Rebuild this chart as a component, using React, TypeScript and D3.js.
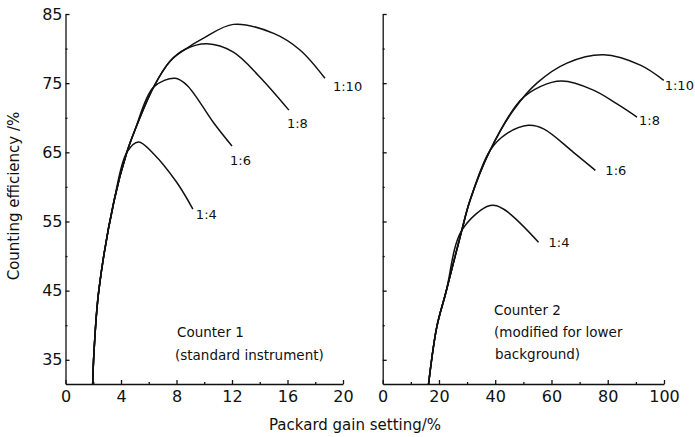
import { useEffect, useRef } from 'react'
import * as d3 from 'd3'

// counter 1 (gain 0-20 %), shared rising part then one branch per ratio
const rise1: [number, number][] = [[1.96, 31.5], [2.05, 36], [2.4, 45], [3.5, 58], [4.42, 65]]
const c1Ratio4: [number, number][] = [[5.26, 66.5], [6.34, 64.8], [8.0, 60.7], [9.18, 56.8]]
const c1Ratio6: [number, number][] = [[5.0, 68.2], [6.34, 74.4], [7.9, 75.7], [8.75, 74.7], [10.7, 69.2], [12.0, 65.9]]
const c1Ratio8: [number, number][] = [[5.0, 68.2], [6.34, 74.4], [7.55, 78.2], [8.63, 79.9], [10.2, 80.7], [12.1, 79.5], [14.0, 75.9], [16.1, 71.1]]
const c1Ratio10: [number, number][] = [[5.0, 68.2], [6.34, 74.4], [7.55, 78.2], [8.63, 79.9], [9.95, 81.5], [12.1, 83.5], [15.0, 82.2], [16.9, 79.8], [18.7, 75.7]]

// counter 2 (gain 0-100 %)
const rise2: [number, number][] = [[16.3, 31.5], [19.2, 39.7], [22.5, 44.8], [28.1, 53.7]]
const c2Ratio4: [number, number][] = [[38.2, 57.3], [42.9, 56.8], [55.4, 52.0]]
const c2Upper: [number, number][] = [[31.0, 58.0], [38.2, 65.3]]
const c2Ratio6: [number, number][] = [[44.1, 67.7], [51.8, 68.9], [57.2, 68.4], [67.8, 65.0], [75.6, 62.4]]
const c2Ratio8: [number, number][] = [[48.9, 72.5], [56.0, 74.5], [63.7, 75.3], [74.9, 74.0], [83.3, 72.0], [90.4, 70.1]]
const c2Ratio10: [number, number][] = [[46.5, 71.1], [54.8, 75.0], [65.5, 77.9], [78.5, 79.1], [91.6, 77.6], [99.9, 75.4]]

const ratioLabels = ['1:4', '1:6', '1:8', '1:10']
const yTicks = [35, 45, 55, 65, 75, 85]
const yMinor = [40, 50, 60, 70, 80]
const x1Ticks = [0, 4, 8, 12, 16, 20]
const x1Minor = [2, 6, 10, 14, 18]
const x2Ticks = [0, 20, 40, 60, 80, 100]
const x2Minor = [10, 30, 50, 70, 90]

const font = 'DejaVu Sans, sans-serif'

const y = d3.scaleLinear().domain([31.5, 85]).range([384, 14])
const x1 = d3.scaleLinear().domain([0, 20]).range([65.5, 343])
const x2 = d3.scaleLinear().domain([0, 100]).range([382.7, 664])

const series1 = [
    [...rise1, ...c1Ratio4],
    [...rise1, ...c1Ratio6],
    [...rise1, ...c1Ratio8],
    [...rise1, ...c1Ratio10]
]
const series2 = [
    [...rise2, ...c2Ratio4],
    [...rise2, ...c2Upper, ...c2Ratio6],
    [...rise2, ...c2Upper, ...c2Ratio8],
    [...rise2, ...c2Upper, ...c2Ratio10]
]

const labelOffset1 = [[3, 10], [-2, 19], [-2, 18], [8, 13]]
const labelOffset2 = [[10, 5], [10, 5], [2, 8], [1, 10]]

const Axes = ({ xs, xt, xm, labelsY }) => {
    const ref = useRef<SVGGElement>(null)
    useEffect(() => {
        const g = d3.select(ref.current)
        g.selectAll('*').remove()
        const x0 = xs.range()[0]
        const yAx = d3.axisLeft(y).tickValues(yTicks).tickSize(-4).tickSizeOuter(0).tickPadding(3)
            .tickFormat(labelsY ? d3.format('d') : () => '')
        g.append('g').attr('transform', `translate(${x0},0)`).call(yAx)
        g.append('g').attr('transform', `translate(${x0},0)`)
            .call(d3.axisLeft(y).tickValues(yMinor).tickSize(-2).tickFormat(() => ''))
            .call((s) => s.select('.domain').remove())
        g.append('g').attr('transform', 'translate(0,384)')
            .call(d3.axisBottom(xs).tickValues(xt).tickSize(-4).tickSizeOuter(0).tickPadding(7).tickFormat(d3.format('d')))
        g.append('g').attr('transform', 'translate(0,384)')
            .call(d3.axisBottom(xs).tickValues(xm).tickSize(-2).tickFormat(() => ''))
            .call((s) => s.select('.domain').remove())
        g.selectAll('path, line').attr('stroke', '#111').attr('stroke-width', 1.3)
        g.selectAll('text').attr('font-family', font).attr('font-size', 16).attr('fill', '#111')
    }, [xs, xt, xm, labelsY])
    return <g ref={ref} />
}

const Panel = ({ xs, series, offsets }) => {
    const line = d3.line<[number, number]>().x((d) => xs(d[0])).y((d) => y(d[1])).curve(d3.curveCatmullRom.alpha(0.5))
    return (
        <g>
            {series.map((s, i) => (
                <path key={i} d={line(s) || ''} fill="none" stroke="#111" strokeWidth={1.5} />
            ))}
            {series.map((s, i) => {
                const last = s[s.length - 1]
                return (
                    <text
                        key={'l' + i}
                        x={xs(last[0]) + offsets[i][0]}
                        y={y(last[1]) + offsets[i][1]}
                        fontFamily={font}
                        fontSize={13}
                        fill="#111"
                    >
                        {ratioLabels[i]}
                    </text>
                )
            })}
        </g>
    )
}

export default function App() {
    return (
        <svg width={695} height={437} style={{ position: 'absolute', left: 0, top: 0, background: '#fff' }}>
            <Axes xs={x1} xt={x1Ticks} xm={x1Minor} labelsY />
            <Axes xs={x2} xt={x2Ticks} xm={x2Minor} labelsY={false} />
            <Panel xs={x1} series={series1} offsets={labelOffset1} />
            <Panel xs={x2} series={series2} offsets={labelOffset2} />
            <g fontFamily={font} fontSize={13.5} fill="#111">
                <text x={177} y={337}>Counter 1</text>
                <text x={175} y={360}>(standard instrument)</text>
                <text x={494} y={315}>Counter 2</text>
                <text x={494} y={337}>(modified for lower</text>
                <text x={495} y={359}>background)</text>
            </g>
            <text x={355} y={430} textAnchor="middle" fontFamily={font} fontSize={15} fill="#111">
                Packard gain setting/%
            </text>
            <text
                transform="translate(19,196) rotate(-90)"
                textAnchor="middle"
                fontFamily={font}
                fontSize={15}
                fill="#111"
            >
                Counting efficiency /%
            </text>
        </svg>
    )
}
